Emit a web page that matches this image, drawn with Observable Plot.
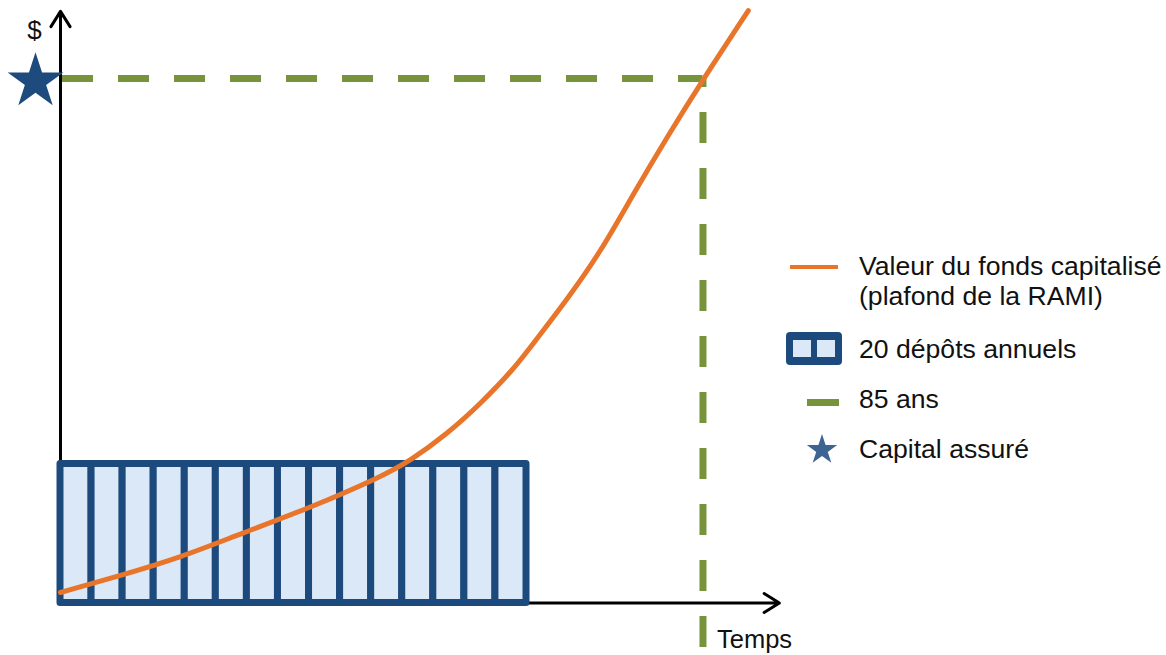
<!DOCTYPE html>
<html><head><meta charset="utf-8">
<script src="https://cdn.jsdelivr.net/npm/d3@7"></script>
<script src="https://cdn.jsdelivr.net/npm/@observablehq/plot@0.6"></script>
<style>
body{margin:0;background:#fff;font-family:"Liberation Sans",Arial,sans-serif;}
#wrap{position:relative;width:1166px;height:655px;overflow:hidden;background:#fff}
#wrap svg.plot{position:absolute;left:0;top:0}
.lg{position:absolute;font-size:26.6px;line-height:30px;color:#111;white-space:nowrap}
.sw{position:absolute}
</style></head><body><div id="wrap"></div>
<script>
// ---- data ----
const deposits = [1,2,3,4,5,6,7,8,9,10,11,12,13,14,15];   // annual deposits drawn
const depositAmount = 26.5;                                 // cumulative height of deposits block
const fundT = [0, 1.93, 3.86, 5.79, 7.95, 10.30, 11.27, 12.45, 13.52, 14.59, 15.23, 16.31, 17.38, 18.44, 19.54, 20.70, 22.14];
const fundV = [2.0, 5.24, 8.67, 13.19, 17.96, 23.99, 27.17, 32.26, 37.98, 44.6, 49.6, 57.9, 66.9, 78.0, 89.0, 100.0, 112.96];
const capitalInsured = 100;
const age85T = 20.68;
const axisEndT = 23.14;
const axisTopV = 112.8;
const yLabel = "$";
const xLabel = "Temps";
const legendLabels = ["Valeur du fonds capitalisé", "(plafond de la RAMI)", "20 dépôts annuels", "85 ans", "Capital assuré"];

const ORANGE = "#e8752a", GREEN = "#77933c", DARK = "#1d4a7d", LIGHT = "#dbe8f7", STAR = "#1d4b7e", STAR2 = "#3d6592";

const fund = fundT.map((t, i) => ({t, v: fundV[i]}));

const chart = Plot.plot({
  width: 1166, height: 655,
  marginLeft: 60, marginRight: 0, marginTop: 0, marginBottom: 52.5,
  x: {domain: [0, 35.6], axis: null},
  y: {domain: [0, 114.87], axis: null},
  style: {fontFamily: '"Liberation Sans", Arial, sans-serif', background: "#fff", overflow: "visible"},
  marks: [
    Plot.arrow([0], {x1: 0, y1: 0, x2: 0, y2: axisTopV, stroke: "#000", strokeWidth: 3, headLength: 9, headAngle: 64, insetStart: 0, insetEnd: 0}),
    Plot.arrow([0], {x1: 0, y1: 0, x2: axisEndT, y2: 0, stroke: "#000", strokeWidth: 3, headLength: 9, headAngle: 64, insetStart: 0, insetEnd: 0}),
    Plot.ruleY([capitalInsured], {x1: 0, x2: age85T, stroke: GREEN, strokeWidth: 7, strokeDasharray: "31,25", strokeDashoffset: 54}),
    Plot.ruleX([age85T], {y1: capitalInsured, y2: -10, stroke: GREEN, strokeWidth: 7, strokeDasharray: "31,25", strokeDashoffset: 22}),
    Plot.rect(deposits, {x1: d => d - 1, x2: d => d, y1: 0, y2: depositAmount, fill: LIGHT, stroke: DARK, strokeWidth: 7, strokeLinejoin: "round"}),
    Plot.line(fund, {x: "t", y: "v", stroke: ORANGE, strokeWidth: 5, curve: "basis"}),
    Plot.dot([capitalInsured], {x: 0, y: d => d, symbol: "star", r: 17.5, fill: STAR, stroke: null, dx: -25, dy: 3}),
    Plot.text([yLabel], {x: 0, y: axisTopV, text: d => d, dx: -26, dy: 19, fontSize: 26, fill: "#111", textAnchor: "middle", lineAnchor: "middle"}),
    Plot.text([xLabel], {x: age85T, y: 0, text: d => d, dx: 14, dy: 45, fontSize: 25.5, fill: "#111", textAnchor: "start", lineAnchor: "bottom"})
  ]
});
chart.classList.add("plot");
const wrap = document.getElementById("wrap");
wrap.appendChild(chart);

// ---- legend (HTML overlay) ----
function addText(txt, left, top) {
  const d = document.createElement("div");
  d.className = "lg"; d.textContent = txt;
  d.style.left = left + "px"; d.style.top = top + "px";
  wrap.appendChild(d);
}
function addSvg(html, left, top, w, h) {
  const s = document.createElementNS("http://www.w3.org/2000/svg", "svg");
  s.setAttribute("width", w); s.setAttribute("height", h);
  s.setAttribute("class", "sw");
  s.style.left = left + "px"; s.style.top = top + "px";
  s.innerHTML = html;
  wrap.appendChild(s);
}
const tx = 859;
addSvg(`<line x1="0" y1="4" x2="48" y2="4" stroke="${ORANGE}" stroke-width="4"/>`, 790, 263, 48, 8);
addText(legendLabels[0], tx, 251);
addText(legendLabels[1], tx, 281);
addSvg(`<rect x="0" y="0" width="56" height="33" rx="4" fill="${DARK}"/>
        <rect x="7" y="8" width="18" height="17" fill="${LIGHT}"/>
        <rect x="31" y="8" width="18" height="17" fill="${LIGHT}"/>`, 786, 332, 56, 33);
addText(legendLabels[2], tx, 334);
addSvg(`<rect x="0" y="0" width="32" height="7" fill="${GREEN}"/>`, 807, 399, 32, 7);
addText(legendLabels[3], tx, 384);
const starPath = d3.symbol(d3.symbolStar, Math.PI * 9.5 * 9.5)();
addSvg(`<path transform="translate(17,17)" d="${starPath}" fill="${STAR2}"/>`, 805, 433, 34, 34);
addText(legendLabels[4], tx, 434);
</script></body></html>
